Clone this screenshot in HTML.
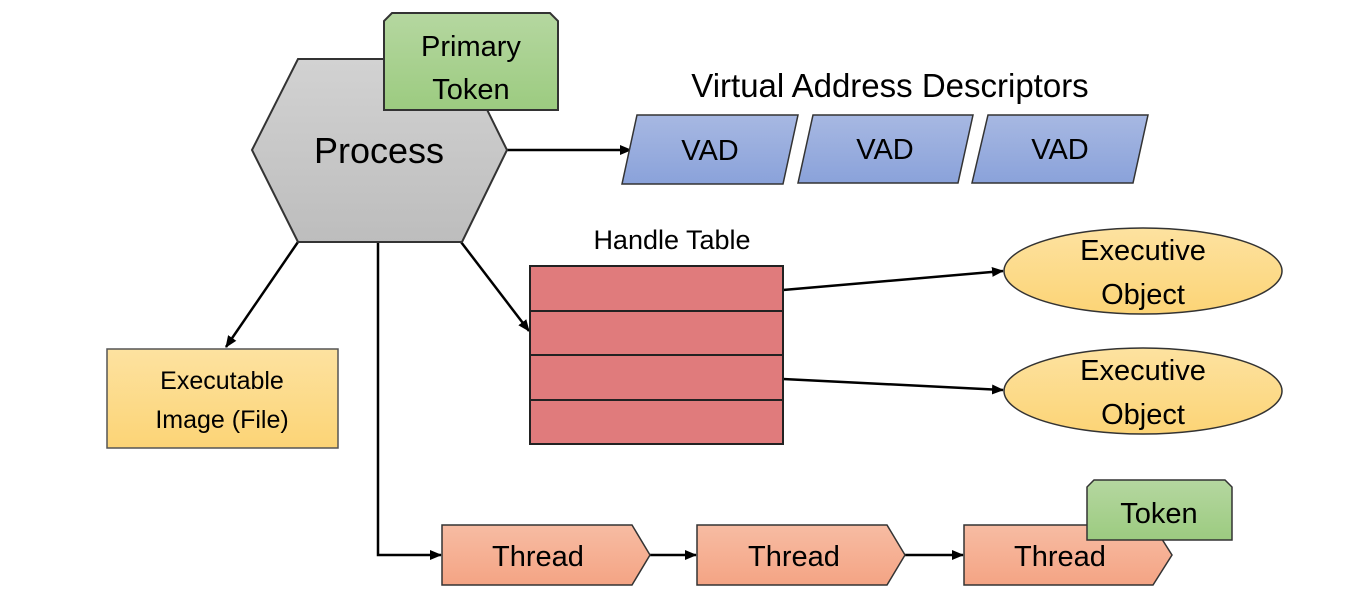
<!DOCTYPE html>
<html><head><meta charset="utf-8"><style>
html,body{margin:0;padding:0;background:#fff;}
svg{display:block;font-family:"Liberation Sans","DejaVu Sans",sans-serif;}
</style></head><body>
<svg width="1356" height="599" viewBox="0 0 1356 599" xmlns="http://www.w3.org/2000/svg">
<defs>
<marker id="a" markerWidth="12" markerHeight="12" refX="11" refY="6" orient="auto" markerUnits="userSpaceOnUse"><path d="M0,1 L12,6 L0,11 z" fill="#000"/></marker>
<linearGradient id="gH" x1="0" y1="0" x2="0" y2="1"><stop offset="0" stop-color="#d2d2d2"/><stop offset="1" stop-color="#bdbdbd"/></linearGradient>
<linearGradient id="gG" x1="0" y1="0" x2="0" y2="1"><stop offset="0" stop-color="#b5d7a0"/><stop offset="1" stop-color="#9ccb80"/></linearGradient>
<linearGradient id="gB" x1="0" y1="0" x2="0" y2="1"><stop offset="0" stop-color="#a7b8e2"/><stop offset="1" stop-color="#8aa2da"/></linearGradient>
<linearGradient id="gY" x1="0" y1="0" x2="0" y2="1"><stop offset="0" stop-color="#fde2a0"/><stop offset="1" stop-color="#fcd476"/></linearGradient>
<linearGradient id="gO" x1="0" y1="0" x2="0" y2="1"><stop offset="0" stop-color="#f7bca3"/><stop offset="1" stop-color="#f4a484"/></linearGradient>
</defs>
<g stroke="#000" stroke-width="2.5" fill="none">
<line x1="507" y1="150" x2="631" y2="150" marker-end="url(#a)"/>
<line x1="298" y1="242" x2="226" y2="347" marker-end="url(#a)"/>
<line x1="461" y1="242" x2="529" y2="331" marker-end="url(#a)"/>
<polyline points="378,242 378,555 441,555" marker-end="url(#a)"/>
<line x1="783" y1="290" x2="1003" y2="271" marker-end="url(#a)"/>
<line x1="783" y1="379" x2="1003" y2="390" marker-end="url(#a)"/>
<line x1="650" y1="555" x2="696" y2="555" marker-end="url(#a)"/>
<line x1="905" y1="555" x2="963" y2="555" marker-end="url(#a)"/>
</g>
<polygon points="252,150 298,59 462,59 507,150 462,242 298,242" fill="url(#gH)" stroke="#333" stroke-width="2"/>
<text x="379" y="163" font-size="36" text-anchor="middle">Process</text>
<polygon points="392,13 550,13 558,21 558,110 384,110 384,21" fill="url(#gG)" stroke="#333" stroke-width="2"/>
<text x="471" y="56" font-size="29" text-anchor="middle">Primary</text>
<text x="471" y="99" font-size="29" text-anchor="middle">Token</text>
<text x="890" y="97" font-size="33" text-anchor="middle">Virtual Address Descriptors</text>
<g stroke="#333" stroke-width="1.5" fill="url(#gB)">
<polygon points="637,115 798,115 783,184 622,184"/>
<polygon points="813,115 973,115 958,183 798,183"/>
<polygon points="988,115 1148,115 1133,183 972,183"/>
</g>
<g font-size="29" text-anchor="middle">
<text x="710" y="160">VAD</text><text x="885" y="159">VAD</text><text x="1060" y="159">VAD</text>
</g>
<text x="672" y="249" font-size="27" text-anchor="middle">Handle Table</text>
<g fill="#e07b7c" stroke="#222" stroke-width="2">
<rect x="530" y="266" width="253" height="45"/><rect x="530" y="311" width="253" height="44"/>
<rect x="530" y="355" width="253" height="45"/><rect x="530" y="400" width="253" height="44"/>
</g>
<g fill="url(#gY)" stroke="#333" stroke-width="1.5">
<ellipse cx="1143" cy="271" rx="139" ry="43"/><ellipse cx="1143" cy="391" rx="139" ry="43"/>
</g>
<g font-size="29" text-anchor="middle">
<text x="1143" y="260">Executive</text><text x="1143" y="304">Object</text>
<text x="1143" y="380">Executive</text><text x="1143" y="424">Object</text>
</g>
<rect x="107" y="349" width="231" height="99" fill="url(#gY)" stroke="#555" stroke-width="1.5"/>
<text x="222" y="389" font-size="25" text-anchor="middle">Executable</text>
<text x="222" y="428" font-size="25" text-anchor="middle">Image (File)</text>
<g fill="url(#gO)" stroke="#333" stroke-width="1.5">
<polygon points="442,525 632,525 650,555 632,585 442,585"/>
<polygon points="697,525 887,525 905,555 887,585 697,585"/>
<polygon points="964,525 1153,525 1172,555 1153,585 964,585"/>
</g>
<g font-size="29" text-anchor="middle">
<text x="538" y="566">Thread</text><text x="794" y="566">Thread</text><text x="1060" y="566">Thread</text>
</g>
<polygon points="1094,480 1225,480 1232,487 1232,540 1087,540 1087,487" fill="url(#gG)" stroke="#333" stroke-width="1.5"/>
<text x="1159" y="523" font-size="29" text-anchor="middle">Token</text>
</svg>
</body></html>
